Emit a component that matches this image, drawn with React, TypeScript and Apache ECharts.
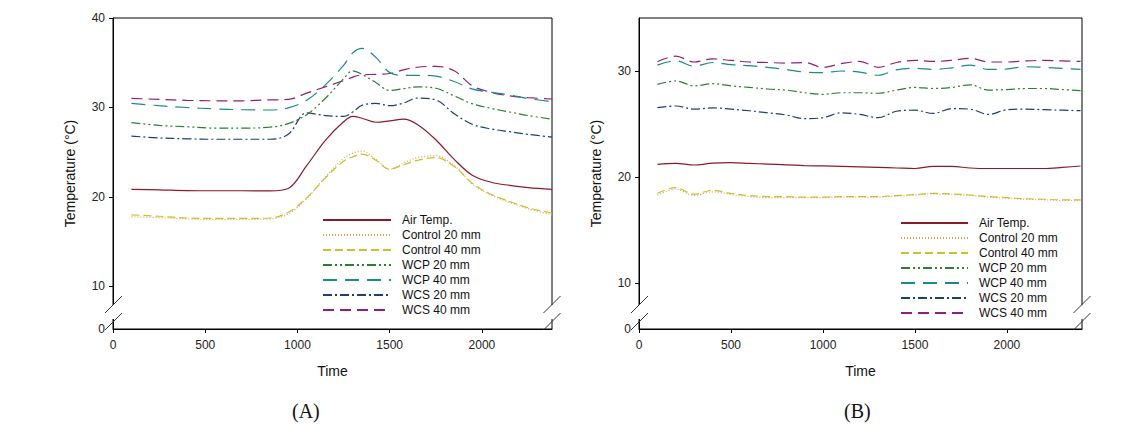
import React, { useEffect, useRef } from 'react';
import * as echarts from 'echarts';

// ---------- data ----------
const seriesNames = ['Air Temp.', 'Control 20 mm', 'Control 40 mm', 'WCP 20 mm', 'WCP 40 mm', 'WCS 20 mm', 'WCS 40 mm'];

// Panel (A)
const timeA = [100, 250, 400, 550, 700, 850, 950, 1050, 1150, 1250, 1300, 1350, 1425, 1500, 1575, 1650, 1750, 1850, 1950, 2050, 2150, 2250, 2380];
const airA = [20.86, 20.8, 20.72, 20.7, 20.7, 20.68, 20.95, 23.5, 26.3, 28.4, 29.0, 28.8, 28.35, 28.5, 28.7, 28.1, 26.4, 24.2, 22.4, 21.65, 21.3, 21.05, 20.86];
const control20A = [17.8, 17.7, 17.55, 17.5, 17.5, 17.55, 18.1, 19.8, 22.2, 24.3, 24.9, 25.1, 24.2, 23.1, 23.8, 24.4, 24.6, 23.5, 21.4, 20.2, 19.4, 18.7, 18.0];
const control40A = [18.0, 17.85, 17.65, 17.6, 17.6, 17.65, 18.3, 19.9, 22.1, 24.0, 24.5, 24.8, 24.1, 23.1, 23.6, 24.1, 24.4, 23.4, 21.5, 20.3, 19.5, 18.8, 18.2];
const wcp20A = [28.3, 28.0, 27.85, 27.7, 27.7, 27.8, 28.2, 29.2, 31.0, 33.2, 34.1, 33.7, 32.8, 31.9, 32.1, 32.3, 32.15, 31.3, 30.4, 29.9, 29.5, 29.1, 28.7];
const wcp40A = [30.47, 30.2, 30.0, 29.85, 29.75, 29.72, 29.95, 30.8, 32.5, 34.7, 36.1, 36.6, 35.6, 33.9, 33.6, 33.6, 33.5, 32.9, 32.05, 31.7, 31.4, 31.0, 30.65];
const wcs20A = [26.8, 26.6, 26.5, 26.45, 26.45, 26.45, 27.0, 29.4, 29.1, 29.0, 29.5, 30.25, 30.45, 30.2, 30.5, 31.05, 30.85, 29.3, 28.1, 27.6, 27.3, 27.0, 26.7];
const wcs40A = [31.03, 30.9, 30.8, 30.75, 30.75, 30.85, 30.9, 31.6, 32.3, 33.0, 33.4, 33.65, 33.7, 33.8, 34.2, 34.5, 34.6, 34.1, 32.4, 31.7, 31.3, 31.1, 30.95];

// Panel (B)
const timeB = [100, 200, 300, 400, 500, 600, 700, 800, 900, 1000, 1100, 1200, 1300, 1400, 1500, 1600, 1700, 1800, 1900, 2000, 2100, 2200, 2300, 2400];
const airB = [21.2, 21.29, 21.13, 21.3, 21.35, 21.28, 21.22, 21.15, 21.08, 21.04, 21.0, 20.95, 20.9, 20.85, 20.8, 21.0, 21.0, 20.85, 20.8, 20.8, 20.8, 20.8, 20.9, 21.04];
const control20B = [18.3, 18.85, 18.25, 18.6, 18.35, 18.15, 18.05, 18.05, 18.05, 18.05, 18.1, 18.1, 18.1, 18.2, 18.3, 18.4, 18.35, 18.25, 18.1, 18.0, 17.9, 17.85, 17.8, 17.8];
const control40B = [18.46, 18.99, 18.37, 18.75, 18.45, 18.25, 18.15, 18.14, 18.1, 18.1, 18.15, 18.15, 18.15, 18.25, 18.35, 18.45, 18.4, 18.3, 18.15, 18.05, 17.95, 17.9, 17.85, 17.85];
const wcp20B = [28.74, 29.06, 28.6, 28.8, 28.6, 28.45, 28.3, 28.2, 27.95, 27.8, 27.95, 27.95, 27.9, 28.2, 28.45, 28.35, 28.45, 28.7, 28.2, 28.25, 28.35, 28.35, 28.25, 28.15];
const wcp40B = [30.55, 30.97, 30.45, 30.8, 30.6, 30.5, 30.35, 30.15, 29.9, 29.85, 30.0, 29.9, 29.6, 30.1, 30.25, 30.15, 30.3, 30.55, 30.15, 30.2, 30.4, 30.35, 30.25, 30.15];
const wcs20B = [26.54, 26.7, 26.4, 26.52, 26.4, 26.25, 26.05, 25.85, 25.5, 25.6, 26.05, 25.9, 25.6, 26.2, 26.3, 26.0, 26.45, 26.4, 25.9, 26.35, 26.4, 26.35, 26.3, 26.26];
const wcs40B = [30.88, 31.4, 30.85, 31.15, 31.0, 30.85, 30.8, 30.75, 30.8, 30.35, 30.7, 30.9, 30.35, 30.8, 31.0, 30.9, 31.0, 31.2, 30.85, 30.85, 30.95, 31.0, 30.95, 30.9];

const xTicks = [0, 500, 1000, 1500, 2000];
const yTicksA = [10, 20, 30, 40];
const yTicksB = [10, 20, 30];

// ---------- styles ----------
const seriesStyles = [
  { color: '#8B1A2B', type: 'solid' as any },
  { color: '#E0A050', type: [1, 2] },
  { color: '#C9C22E', type: [8, 4] },
  { color: '#2E7D32', type: [9, 3, 2, 3, 2, 3] },
  { color: '#1B8A8A', type: [14, 8] },
  { color: '#1F3F6E', type: [9, 3, 2, 3] },
  { color: '#8E1F7E', type: [11, 6] },
];

const FONT = "'Liberation Sans', Arial, sans-serif";

export default function App() {
  const ref = useRef<HTMLDivElement>(null);
  useEffect(() => {
    document.body.style.margin = '0';
    if (!ref.current) return;
    const chart = echarts.init(ref.current, undefined, { renderer: 'svg' });

    const dataA = [airA, control20A, control40A, wcp20A, wcp40A, wcs20A, wcs40A];
    const dataB = [airB, control20B, control40B, wcp20B, wcp40B, wcs20B, wcs40B];

    const mkSeries = (vals: number[][], times: number[], idx: number) =>
      vals.map((v, i) => ({
        name: seriesNames[i],
        type: 'line',
        xAxisIndex: idx,
        yAxisIndex: idx,
        data: times.map((t, j) => [t, v[j]]),
        symbol: 'none',
        showSymbol: false,
        smooth: 0.35,
        lineStyle: { color: seriesStyles[i].color, width: 1.2, type: seriesStyles[i].type },
        itemStyle: { color: seriesStyles[i].color },
        z: 10 - i,
      }));

    const yMinA = 5.25;
    const yMinB = 5.66;

    const axisCommon = {
      axisLine: { show: true, onZero: false, lineStyle: { color: '#000', width: 1 } },
      axisTick: { show: true, inside: false, length: 4, lineStyle: { color: '#000' } },
      splitLine: { show: false },
    };

    const xAxis = (idx: number, max: number) => ({
      type: 'value',
      gridIndex: idx,
      min: 0,
      max,
      interval: 500,
      ...axisCommon,
      axisTick: { ...axisCommon.axisTick, customValues: xTicks },
      axisLabel: {
        customValues: xTicks,
        formatter: (v: number) => String(v),
        margin: 10,
        fontFamily: FONT,
        fontSize: 12,
        color: '#222',
      },
      name: 'Time',
      nameLocation: 'middle',
      nameGap: 35,
      nameTextStyle: { fontFamily: FONT, fontSize: 14, color: '#111' },
    });

    const yAxis = (idx: number, min: number, max: number, ticks: number[]) => ({
      type: 'value',
      gridIndex: idx,
      min,
      max,
      ...axisCommon,
      axisTick: { ...axisCommon.axisTick, customValues: ticks },
      axisLabel: {
        customValues: [min, ...ticks],
        formatter: (v: number) => (v < 9 ? '0' : String(Math.round(v))),
        margin: 8,
        fontFamily: FONT,
        fontSize: 12,
        color: '#222',
      },
      name: 'Temperature (°C)',
      nameLocation: 'middle',
      nameGap: 36,
      nameTextStyle: { fontFamily: FONT, fontSize: 14, color: '#111' },
    });

    const legend = (left: number, top: number, w: number) => ({
      left,
      top,
      orient: 'vertical',
      itemWidth: w,
      itemHeight: 12,
      itemGap: 3,
      selectedMode: false,
      data: seriesNames,
      itemStyle: { opacity: 0, borderWidth: 0 },
      textStyle: { fontFamily: FONT, fontSize: 12, color: '#111', lineHeight: 12, padding: [0, 0, 0, 6] },
    });

    // axis-break marks
    const breakMarks = (ax: number, base: number) => [
      { type: 'rect', shape: { x: ax - 3, y: base - 24, width: 6, height: 14 }, style: { fill: '#fff' }, z: 100 },
      { type: 'line', shape: { x1: ax - 8.5, y1: base - 16, x2: ax + 8.5, y2: base - 33 }, style: { stroke: '#333', lineWidth: 1 }, z: 101 },
      { type: 'line', shape: { x1: ax - 8.5, y1: base + 1, x2: ax + 8.5, y2: base - 16 }, style: { stroke: '#333', lineWidth: 1 }, z: 101 },
    ];

    const option = {
      animation: false,
      backgroundColor: '#fff',
      grid: [
        { left: 113, top: 18, width: 439, height: 311, show: true, borderColor: '#000', borderWidth: 1, backgroundColor: 'transparent' },
        { left: 639, top: 18, width: 443, height: 311, show: true, borderColor: '#000', borderWidth: 1, backgroundColor: 'transparent' },
      ],
      xAxis: [xAxis(0, 2380), xAxis(1, 2408)],
      yAxis: [yAxis(0, yMinA, 40, yTicksA), yAxis(1, yMinB, 35, yTicksB)],
      legend: [legend(317, 209, 68), legend(895, 212, 67)],
      series: [...mkSeries(dataA, timeA, 0), ...mkSeries(dataB, timeB, 1)],
      graphic: [
        ...breakMarks(113.5, 329),
        ...breakMarks(552, 329),
        ...breakMarks(639.5, 329),
        ...breakMarks(1082, 329),
        {
          type: 'text',
          left: 292,
          top: 401,
          style: { text: '(A)', font: "20px 'Liberation Serif', 'DejaVu Serif', serif", fill: '#111' },
          z: 100,
        },
        {
          type: 'text',
          left: 844,
          top: 401,
          style: { text: '(B)', font: "20px 'Liberation Serif', 'DejaVu Serif', serif", fill: '#111' },
          z: 100,
        },
      ],
    };

    chart.setOption(option as any);
    return () => chart.dispose();
  }, []);

  return <div ref={ref} style={{ width: 1136, height: 433 }} />;
}
